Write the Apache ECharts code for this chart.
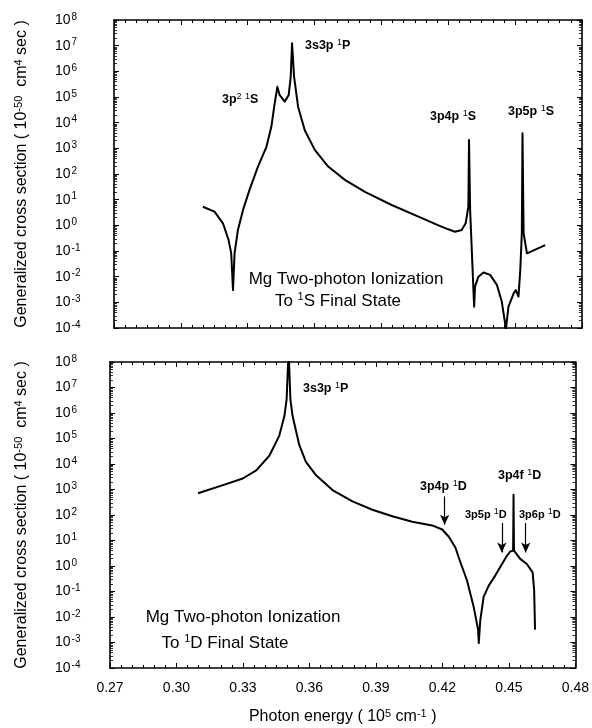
<!DOCTYPE html>
<html><head><meta charset="utf-8">
<script src="https://cdn.jsdelivr.net/npm/echarts@6/dist/echarts.min.js"></script>
<style>html,body{margin:0;padding:0;background:#fff}#c{width:592px;height:728px}</style>
</head><body><div id="c"></div>
<script>
// ---- data ----
var xTicks = [0.27, 0.30, 0.33, 0.36, 0.39, 0.42, 0.45, 0.48];
var yTickExps = [-4, -3, -2, -1, 0, 1, 2, 3, 4, 5, 6, 7, 8];

// Upper panel: to 1S final state
var xS = [0.3099,0.3151,0.3189,0.3214,0.3226,0.3234,0.3241,0.3256,0.3279,0.3308,0.3346,0.3384,0.3406,0.3421,0.3433,0.3443,0.3466,0.3484,0.3493,0.3499,0.3508,0.3526,0.3556,0.3601,0.3661,0.3736,0.3826,0.3946,0.4066,0.4156,0.4200,0.4230,0.4260,0.4278,0.4290,0.4293,0.4298,0.4316,0.4320,0.4335,0.4358,0.4388,0.4418,0.4440,0.4455,0.4458,0.4470,0.4493,0.4503,0.4515,0.4523,0.4530,0.4533,0.4538,0.4553,0.4568,0.4635];
var yS = [5.3,3.4,1.2,0.27,0.081,3.0e-3,0.081,0.66,4.0,24,195,1150,6.9e3,5.6e4,2.5e5,1.2e5,6.6e4,1.2e5,6.2e5,1.23e7,6.2e5,4.2e4,5.1e3,870,195,59,20,6.2,2.2,1.0,0.7,0.56,0.66,1.2,5.3,2.1e3,4.0,6.8e-4,4.1e-3,1.0e-2,1.45e-2,1.17e-2,4.8e-3,1.07e-3,1.5e-4,8e-5,6.8e-4,2.2e-3,3.0e-3,1.66e-3,1.8e-2,0.49,3.9e3,0.49,8.1e-2,9.3e-2,0.17];

// Lower panel: to 1D final state
var xD = [0.3097,0.3210,0.3299,0.3360,0.3419,0.3464,0.3487,0.3497,0.3506,0.3514,0.3524,0.3554,0.3584,0.3630,0.3704,0.3794,0.3884,0.3974,0.4064,0.4154,0.4199,0.4229,0.4259,0.4274,0.4311,0.4341,0.4361,0.4364,0.4371,0.4386,0.4409,0.4439,0.4469,0.4491,0.4506,0.4519,0.4521,0.4523,0.4529,0.4551,0.4581,0.4607,0.4614,0.4618];
var yD = [710,1.48e3,2.7e3,5.6e3,2.1e4,1.3e5,7.6e5,3.4e6,3e8,3.4e6,7.6e5,5.6e4,1.2e4,3.6e3,950,340,160,89,54,39,27,14,5.2,2.1,0.27,2.5e-2,3.2e-3,9.5e-4,7.6e-3,6.2e-2,0.17,0.43,1.2,2.5,3.7,4.0,620,4.0,3.4,1.9,1.2,0.56,0.11,3.2e-3];

// arrows in lower panel: [x, yFrom, yTo]
var arrowsD = [[0.4210, 537, 41], [0.4468, 49, 3.4], [0.4576, 49, 3.4]];

// ---- chart ----
var FONT = 'Liberation Sans, Arial, sans-serif';
function pairs(xs, ys){ return xs.map(function(x,i){ return [x, ys[i]]; }); }
function yLab(v){ var e = Math.round(Math.log10(v)); return '{b|10}{s|' + e + '}'; }
var yRich = { b:{fontSize:14, lineHeight:16, color:'#000', fontFamily:FONT}, s:{fontSize:10, lineHeight:16, verticalAlign:'top', color:'#000', fontFamily:FONT, padding:[0,0,6,1]} };

var grids = [
  {left:114, right:10, top:20, height:308},
  {left:110, right:15, top:362, height:310}
];

function xAx(gi, showLabels, pos){
  return {
    type:'value', gridIndex:gi, min:0.27, max:0.48, interval:0.03, position:pos,
    axisLine:{show:true, lineStyle:{color:'#000', width:1.6}},
    axisTick:{show:true, inside:true, length:5, lineStyle:{color:'#000', width:1}},
    minorTick:{show:true, splitNumber:6, length:3, lineStyle:{color:'#000', width:1}},
    splitLine:{show:false},
    axisLabel:{show:showLabels && pos==='bottom', margin:13, fontSize:14, color:'#000', fontFamily:FONT,
      formatter:function(v){ return v.toFixed(2); }},
    name: (showLabels && pos==='bottom') ? 'Photon energy ( 10{s|5} cm{s|-1} )' : '',
    nameLocation:'middle', nameGap:40,
    nameTextStyle:{fontSize:16, color:'#000', fontFamily:FONT, rich:{s:{fontSize:11, verticalAlign:'top', lineHeight:18, padding:[0,0,8,0], fontFamily:FONT, color:'#000'}}}
  };
}
function yAx(gi, pos, margin, gap){
  var left = pos === 'left';
  return {
    type:'log', logBase:10, gridIndex:gi, min:1e-4, max:1e8, interval:1, position:pos,
    axisLine:{show:true, lineStyle:{color:'#000', width:1.6}},
    axisTick:{show:true, inside:true, length:5, lineStyle:{color:'#000', width:1}},
    minorTick:{show:true, splitNumber:9, length:3, lineStyle:{color:'#000', width:0.8}},
    splitLine:{show:false},
    axisLabel:{show:left, margin:margin, align:'left', formatter:yLab, rich:yRich},
    name: left ? 'Generalized cross section ( 10{s|-50}  cm{s|4} sec )' : '',
    nameLocation:'middle', nameGap:gap, nameRotate:90,
    nameTextStyle:{fontSize:16, color:'#000', fontFamily:FONT, rich:{s:{fontSize:11, verticalAlign:'top', lineHeight:18, padding:[0,0,7,0], fontFamily:FONT, color:'#000'}}}
  };
}

var lineStyle = {color:'#000', width:2, join:'round'};
var series = [
  {type:'line', xAxisIndex:0, yAxisIndex:0, data:pairs(xS, yS), showSymbol:false, symbol:'none', lineStyle:lineStyle, clip:true, silent:true},
  {type:'line', xAxisIndex:2, yAxisIndex:2, data:pairs(xD, yD), showSymbol:false, symbol:'none', lineStyle:lineStyle, clip:true, silent:true,
    markLine:{silent:true, symbol:['none','arrow'], symbolSize:[7,10], label:{show:false},
      lineStyle:{color:'#000', width:1.2, type:'solid'},
      data: arrowsD.map(function(a){ return [{coord:[a[0], a[1]]}, {coord:[a[0], a[2]]}]; })}}
];

var labRich = {s:{fontSize:9, verticalAlign:'top', lineHeight:15, padding:[0,0,5,0], fontFamily:FONT, fill:'#000'}};
function txt(x, y, text, size, weight){
  return {type:'text', x:x, y:y, silent:true, style:{text:text, fontSize:size, fontWeight:weight||'bold', fontFamily:FONT, fill:'#000', verticalAlign:'middle', align:'left', rich:labRich}};
}
var bigRich = {s:{fontSize:11, verticalAlign:'top', lineHeight:19, padding:[0,0,7,0], fontFamily:FONT, fill:'#000'}};
function big(x, y, text){
  return {type:'text', x:x, y:y, silent:true, style:{text:text, fontSize:17, fontFamily:FONT, fill:'#000', align:'center', verticalAlign:'middle', rich:bigRich}};
}
var graphics = [
  txt(222, 100, '3p{s|2} {s|1}S', 12.5),
  txt(305, 46, '3s3p {s|1}P', 12.5),
  txt(430, 117, '3p4p {s|1}S', 12.5),
  txt(508, 112, '3p5p {s|1}S', 12.5),
  big(346, 279, 'Mg Two-photon Ionization'),
  big(338, 301, 'To {s|1}S Final State'),
  txt(303, 389, '3s3p {s|1}P', 12.5),
  txt(420, 487, '3p4p {s|1}D', 12.5),
  txt(498, 476, '3p4f {s|1}D', 12.5),
  txt(465, 515, '3p5p {s|1}D', 11),
  txt(519, 515, '3p6p {s|1}D', 11),
  big(243, 617, 'Mg Two-photon Ionization'),
  big(225, 643, 'To {s|1}D Final State')
];

var chart = echarts.init(document.getElementById('c'), null, {renderer:'canvas'});
chart.setOption({
  backgroundColor:'#fff',
  animation:false,
  grid:grids,
  xAxis:[xAx(0,false,'bottom'), xAx(0,false,'top'), xAx(1,true,'bottom'), xAx(1,false,'top')],
  yAxis:[yAx(0,'left',59,83), yAx(0,'right',0,0), yAx(1,'left',55,79), yAx(1,'right',0,0)],
  series:series,
  graphic:graphics
});
</script></body></html>
